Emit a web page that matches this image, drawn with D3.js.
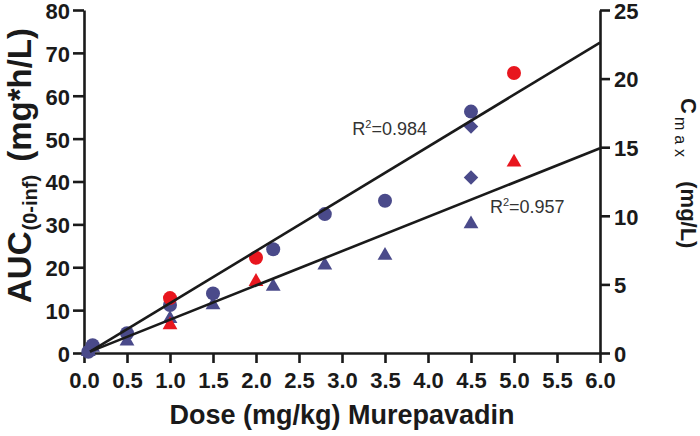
<!DOCTYPE html>
<html><head><meta charset="utf-8">
<script src="https://cdn.jsdelivr.net/npm/d3@7"></script>
<style>
html,body{margin:0;padding:0;background:#fff;}
svg{display:block;font-family:"Liberation Sans",Arial,sans-serif;}
</style></head>
<body>
<svg id="chart" width="700" height="436"></svg>
<script>
// ---- data ----
const xTicks = [0,0.5,1,1.5,2,2.5,3,3.5,4,4.5,5,5.5,6];
const yLeftTicks = [0,10,20,30,40,50,60,70,80];
const yRightTicks = [0,5,10,15,20,25];

const aucBlueDose = [0.05,0.1,0.5,1.0,1.5,2.2,2.8,3.5,4.5];
const aucBlue     = [0.3,1.8,4.6,11.2,13.9,24.2,32.4,35.5,56.3];
const aucRedDose  = [1.0,2.0,5.0];
const aucRed      = [12.8,22.2,65.3];

const cmaxBlueDose = [0.05,0.1,0.5,1.0,1.5,2.2,2.8,3.5,4.5];
const cmaxBlue     = [0.1,0.4,0.85,2.5,3.5,4.85,6.4,7.1,9.4];
const cmaxRedDose  = [1.0,2.0,5.0];
const cmaxRed      = [2.05,5.2,13.9];
const cmaxDiamondDose = [4.5,4.5];
const cmaxDiamond     = [16.5,12.8];

const fitDose = [0.07,6.0];
const fitAUC  = [0.3,72.4];
const fitCmax = [0.1,14.92];

const r2Labels = [
  {text:"0.984", dose:3.12, auc:50.8},
  {text:"0.957", dose:4.72, auc:32.7}
];

const blue = "#4a4a8a", red = "#e8161e", ink = "#1a1a1a";

// ---- scales ----
const svg = d3.select("#chart");
const x = d3.scaleLinear().domain([0,6]).range([84,600]);
const yL = d3.scaleLinear().domain([0,80]).range([353,10]);
const yR = d3.scaleLinear().domain([0,25]).range([353,10]);

// ---- axes ----
function styleAxis(g){
  g.selectAll("path.domain").attr("stroke",ink).attr("stroke-width",2.6);
  g.selectAll(".tick line").attr("stroke",ink).attr("stroke-width",2.6);
  g.selectAll(".tick text").attr("fill",ink).attr("font-size",22).attr("font-weight","bold")
    .attr("font-family","'Liberation Sans',Arial,sans-serif");
}
svg.append("g").attr("transform","translate(0,353)")
  .call(d3.axisBottom(x).tickValues(xTicks).tickFormat(d3.format(".1f")).tickSize(10).tickSizeOuter(0).tickPadding(9))
  .call(styleAxis);
svg.append("g").attr("transform","translate(84,0)")
  .call(d3.axisLeft(yL).tickValues(yLeftTicks).tickSize(11).tickSizeOuter(0).tickPadding(3))
  .call(styleAxis)
  .call(g=>g.selectAll(".tick text").attr("dy","0.38em"));
svg.append("g").attr("transform","translate(600,0)")
  .call(d3.axisRight(yR).tickValues(yRightTicks).tickSize(10).tickSizeOuter(0).tickPadding(4))
  .call(styleAxis)
  .call(g=>g.selectAll(".tick text").attr("dy","0.38em"));

// ---- markers ----
const tri = d3.symbol().type(d3.symbolTriangle).size(95);
const dia = d3.symbol().type(d3.symbolSquare).size(105);

svg.append("g").selectAll("circle.ab").data(aucBlueDose).join("circle")
  .attr("cx",d=>x(d)).attr("cy",(d,i)=>yL(aucBlue[i])).attr("r",7).attr("fill",blue);
svg.append("g").selectAll("circle.ar").data(aucRedDose).join("circle")
  .attr("cx",d=>x(d)).attr("cy",(d,i)=>yL(aucRed[i])).attr("r",7).attr("fill",red);
svg.append("g").selectAll("path.tb").data(cmaxBlueDose).join("path")
  .attr("d",tri).attr("transform",(d,i)=>`translate(${x(d)},${yR(cmaxBlue[i])})`).attr("fill",blue);
svg.append("g").selectAll("path.tr").data(cmaxRedDose).join("path")
  .attr("d",tri).attr("transform",(d,i)=>`translate(${x(d)},${yR(cmaxRed[i])})`).attr("fill",red);
svg.append("g").selectAll("path.dm").data(cmaxDiamondDose).join("path")
  .attr("d",dia).attr("transform",(d,i)=>`translate(${x(d)},${yR(cmaxDiamond[i])}) rotate(45)`).attr("fill",blue);

// ---- fit lines ----
svg.append("line").attr("x1",x(fitDose[0])).attr("y1",yL(fitAUC[0]))
  .attr("x2",x(fitDose[1])).attr("y2",yL(fitAUC[1])).attr("stroke",ink).attr("stroke-width",2.6);
svg.append("line").attr("x1",x(fitDose[0])).attr("y1",yR(fitCmax[0]))
  .attr("x2",x(fitDose[1])).attr("y2",yR(fitCmax[1])).attr("stroke",ink).attr("stroke-width",2.6);

// ---- R2 labels ----
r2Labels.forEach(l=>{
  const t = svg.append("text").attr("x",x(l.dose)).attr("y",yL(l.auc))
    .attr("font-size",18).attr("fill","#333");
  t.append("tspan").text("R");
  t.append("tspan").attr("font-size",11).attr("dy",-7).text("2");
  t.append("tspan").attr("dy",7).text("=" + l.text);
});

// ---- axis titles ----
svg.append("text").attr("x",342).attr("y",424).attr("text-anchor","middle")
  .attr("font-size",27).attr("font-weight","bold").attr("fill",ink)
  .text("Dose (mg/kg) Murepavadin");

const lt = svg.append("text").attr("transform","translate(31,303) rotate(-90)")
  .attr("text-anchor","start").attr("font-size",33).attr("font-weight","bold").attr("fill",ink);
lt.append("tspan").text("AUC");
lt.append("tspan").attr("font-size",20).attr("dy",6).attr("dx",1).text("(0-inf)");
lt.append("tspan").attr("dy",-6).attr("dx",4).text(" (mg*h/L)");

const rt = svg.append("text").attr("transform","translate(681,98) rotate(90)")
  .attr("text-anchor","start").attr("font-size",22).attr("font-weight","bold").attr("fill",ink);
rt.append("tspan").text("C");
rt.append("tspan").attr("font-size",16).attr("font-weight","normal").attr("dy",6).attr("dx",3).attr("letter-spacing",5).text("max");
rt.append("tspan").attr("dy",-6).attr("dx",13).text(" (mg/L)");
</script>
</body></html>
